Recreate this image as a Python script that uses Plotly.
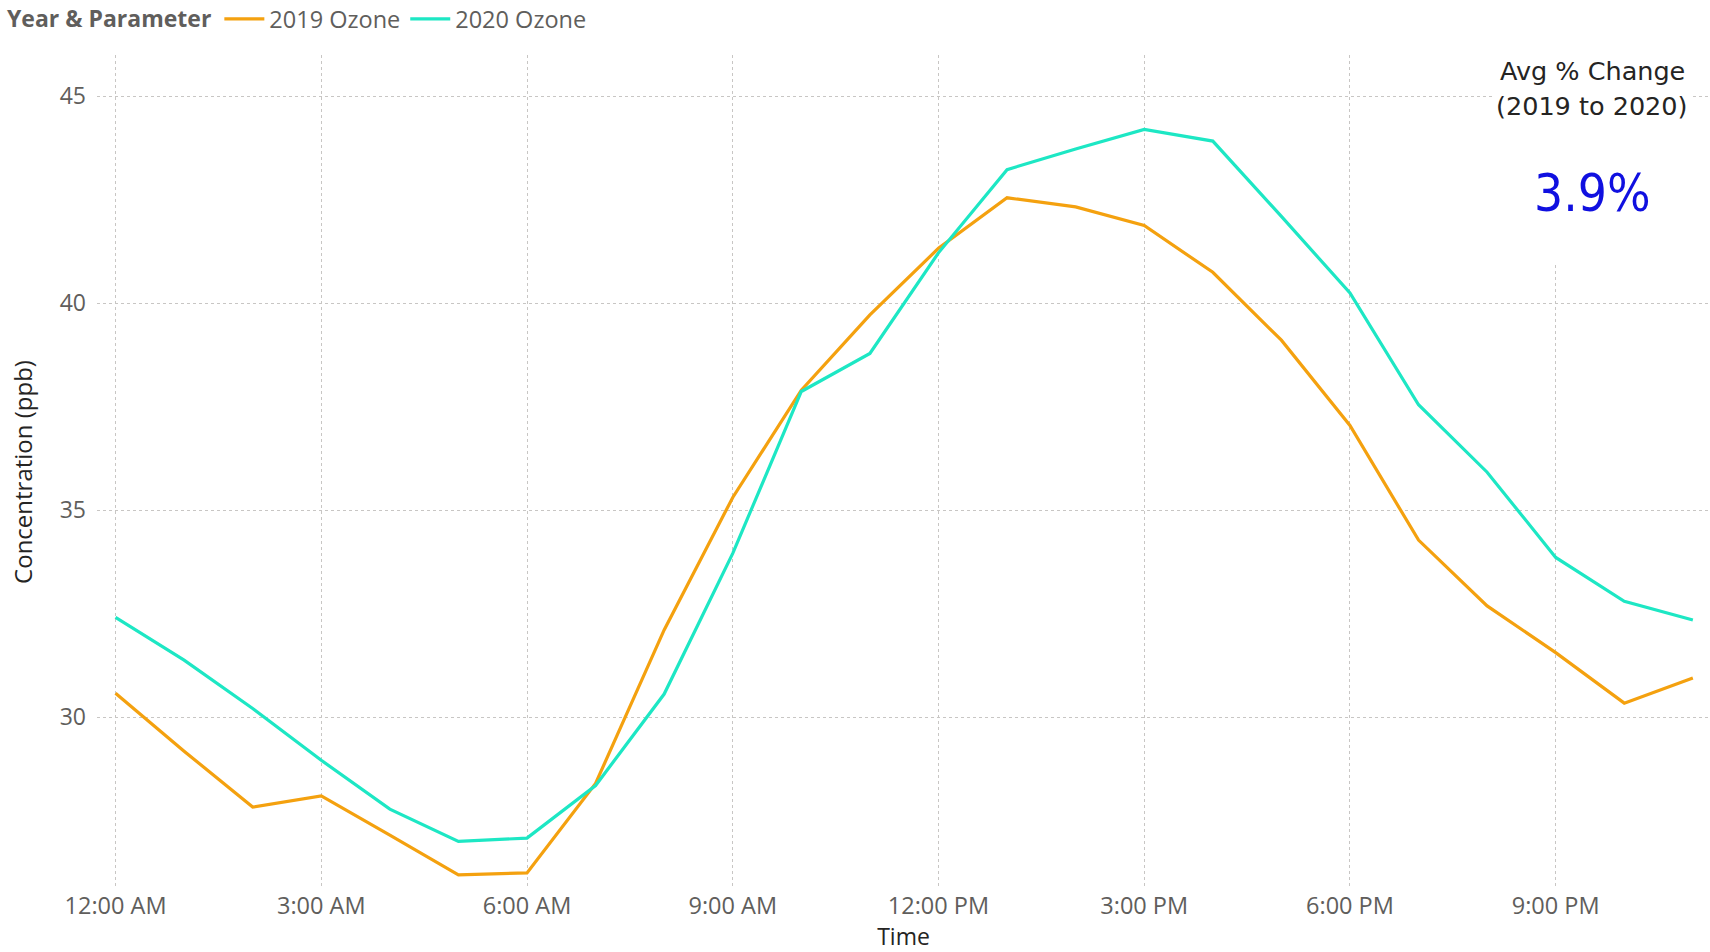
import plotly.graph_objects as go

hours = list(range(24))
tick_hours = [0, 3, 6, 9, 12, 15, 18, 21]
tick_labels = ["12:00 AM", "3:00 AM", "6:00 AM", "9:00 AM", "12:00 PM", "3:00 PM", "6:00 PM", "9:00 PM"]

ozone_2019 = [30.58, 29.18, 27.83, 28.10, 27.15, 26.19, 26.24, 28.40, 32.11, 35.31, 37.90, 39.72,
              41.33, 42.55, 42.33, 41.88, 40.75, 39.11, 37.05, 34.28, 32.69, 31.56, 30.34, 30.95]
ozone_2020 = [32.41, 31.38, 30.21, 28.96, 27.78, 27.00, 27.08, 28.35, 30.56, 33.96, 37.87, 38.79,
              41.22, 43.23, 43.73, 44.20, 43.92, 42.10, 40.25, 37.55, 35.92, 33.86, 32.80, 32.35]
avg_change = "3.9%"

W, H = 1710, 952
L, R, T, B = 97, 0, 55, 63
pw, ph = W - L - R, H - T - B


def px(x):
    return (x - L) / pw


def py(y):
    return (H - B - y) / ph


text_font = "Segoe UI, Open Sans, sans-serif"
grid_col = "#C8C6C4"
card_font = "DIN, DejaVu Sans, sans-serif"
big_font = "DIN, DejaVu Sans Condensed, sans-serif"

fig = go.Figure()
fig.add_trace(go.Scatter(x=hours, y=ozone_2019, mode="lines", name="2019 Ozone",
                         line=dict(color="#F4A10F", width=3.2)))
fig.add_trace(go.Scatter(x=hours, y=ozone_2020, mode="lines", name="2020 Ozone",
                         line=dict(color="#1DE7C4", width=3.2)))

fig.update_layout(
    width=W, height=H,
    margin=dict(l=L, r=R, t=T, b=B, autoexpand=False),
    paper_bgcolor="white", plot_bgcolor="white",
    font=dict(family=text_font, color="#605E5C", size=23),
    showlegend=True,
    legend=dict(orientation="h", x=px(5), xanchor="left", y=py(19), yanchor="middle",
                title=dict(text="<b>Year &amp; Parameter</b>", font=dict(size=23, color="#605E5C")),
                font=dict(size=23.5, color="#605E5C"), itemwidth=40, tracegroupgap=0),
    xaxis=dict(range=[-0.27, 23.25], tickvals=tick_hours, ticktext=tick_labels,
               showgrid=True, gridcolor=grid_col, griddash="dot", gridwidth=1,
               zeroline=False, showline=False, ticks="", automargin=False,
               tickfont=dict(size=23.5, color="#605E5C"),
               title=dict(text="Time", font=dict(size=23, color="#252423"), standoff=15)),
    yaxis=dict(range=[25.85, 46], tickvals=[30, 35, 40, 45],
               showgrid=True, gridcolor=grid_col, griddash="dot", gridwidth=1,
               zeroline=False, showline=False, ticks="", ticklabelstandoff=10, automargin=False,
               tickfont=dict(size=23, color="#605E5C"),
               title=dict(text="Concentration (ppb)", font=dict(size=24, color="#252423"), standoff=20)),
)

fig.add_shape(type="rect", xref="paper", yref="paper",
              x0=px(1494), x1=px(1692), y0=py(262), y1=py(50),
              fillcolor="white", line=dict(width=0), layer="above")

fig.add_annotation(xref="paper", yref="paper", x=px(1592), y=py(71), xanchor="center", yanchor="middle",
                   text="Avg % Change", showarrow=False,
                   font=dict(family=card_font, size=25.5, color="#252423"))
fig.add_annotation(xref="paper", yref="paper", x=px(1592), y=py(106), xanchor="center", yanchor="middle",
                   text="(2019 to 2020)", showarrow=False,
                   font=dict(family=card_font, size=25.5, color="#252423"))
fig.add_annotation(xref="paper", yref="paper", x=px(1592), y=py(194), xanchor="center", yanchor="middle",
                   text=avg_change, showarrow=False,
                   font=dict(family=big_font, size=51, color="#1010E0"))

fig.write_html("out.html", config={"displayModeBar": False},
               post_script="document.body.style.margin='0';document.body.style.overflow='hidden';")
